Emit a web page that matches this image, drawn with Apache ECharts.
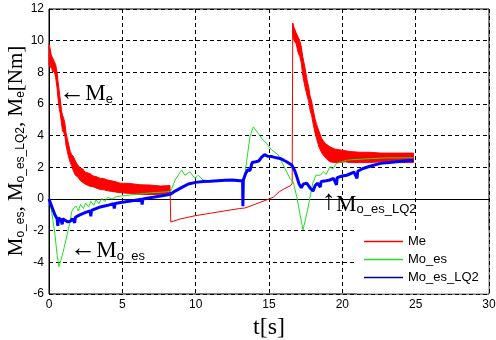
<!DOCTYPE html>
<html>
<head>
<meta charset="utf-8">
<script src="https://cdn.jsdelivr.net/npm/echarts@6/dist/echarts.min.js"></script>
<style>
  html, body { margin: 0; padding: 0; background: #fff; }
  #chart { width: 496px; height: 340px; }
</style>
</head>
<body>
<div id="chart"></div>
<script>
// Engine torque Me: noisy band while the controller is active, rows are [t, low, high]
const meBandEarly = [
  [0.00, 8.5, 9.8], [0.08, 8.3, 9.5], [0.15, 8.4, 9.1], [0.25, 8.0, 8.9], [0.35, 8.1, 8.7],
  [0.45, 7.7, 8.5], [0.55, 7.0, 8.0], [0.62, 6.3, 7.4], [0.70, 5.7, 6.8], [0.78, 5.3, 6.2],
  [0.85, 4.8, 5.6], [0.92, 4.3, 5.3], [1.00, 4.2, 5.1], [1.08, 4.0, 4.8], [1.16, 3.4, 4.2],
  [1.25, 3.0, 3.8], [1.35, 2.6, 3.4], [1.45, 2.3, 3.0], [1.55, 2.1, 2.8], [1.65, 1.8, 2.7],
  [1.80, 1.5, 2.4], [1.95, 1.4, 2.15], [2.15, 1.15, 1.95], [2.30, 1.05, 1.9], [2.45, 0.95, 1.7],
  [2.80, 0.8, 1.6], [3.00, 0.78, 1.45], [3.20, 0.7, 1.42], [3.50, 0.6, 1.3], [3.75, 0.58, 1.28],
  [4.00, 0.52, 1.2], [4.50, 0.45, 1.1], [4.85, 0.4, 1.0], [5.50, 0.35, 0.98], [6.20, 0.3, 0.9],
  [6.90, 0.28, 0.88], [7.60, 0.3, 0.82], [8.25, 0.35, 0.85]
];
const meBandLate = [
  [16.62, 10.3, 11.1], [16.72, 10.0, 10.8], [16.85, 9.8, 10.5], [17.00, 9.2, 10.2], [17.10, 9.0, 10.0],
  [17.20, 8.6, 9.6], [17.30, 7.8, 9.0], [17.45, 7.1, 8.3], [17.60, 6.5, 7.5], [17.70, 6.2, 7.1],
  [17.80, 5.6, 6.5], [17.90, 5.3, 6.2], [18.00, 4.8, 5.7], [18.13, 4.2, 5.1], [18.25, 3.8, 4.7],
  [18.40, 3.3, 4.3], [18.60, 2.9, 3.8], [18.85, 2.6, 3.5], [19.15, 2.35, 3.3], [19.50, 2.3, 3.15],
  [19.84, 2.3, 3.1], [20.20, 2.35, 3.05], [20.50, 2.3, 3.0], [21.20, 2.3, 2.95], [21.90, 2.3, 2.95],
  [22.60, 2.35, 2.9], [23.20, 2.35, 2.9], [24.00, 2.3, 2.9], [24.85, 2.3, 2.9]
];
// Engine torque Me between the two active phases (thin trace)
const meThin = [
  [8.26, 0.6], [8.30, -1.45], [9.0, -1.25], [10.0, -1.05], [11.0, -0.9], [12.0, -0.75],
  [13.0, -0.6], [13.36, -0.57], [14.0, -0.35], [15.0, 0.0], [15.3, 0.12], [15.7, 0.46],
  [16.0, 0.62], [16.5, 0.86], [16.58, 1.0], [16.62, 11.1]
];
// Estimated load torque Mo_es
const moEs = [
  [0, 0], [0.2, -0.9], [0.4, -2.2], [0.55, -3.5], [0.68, -4.27], [0.8, -3.9], [0.95, -3.4],
  [1.2, -2.4], [1.43, -1.45], [1.55, -0.8], [1.7, -0.55], [1.85, -0.45], [2.0, -0.75],
  [2.15, -0.35], [2.35, -0.6], [2.5, -0.25], [2.7, -0.5], [2.85, -0.15], [3.05, -0.4],
  [3.2, -0.05], [3.4, -0.3], [3.6, 0.05], [3.8, -0.15], [4.0, 0.1], [4.3, 0.0], [4.6, 0.15],
  [5.0, 0.2], [5.5, 0.25], [6.0, 0.3], [6.5, 0.35], [7.0, 0.4], [7.5, 0.42], [8.0, 0.45],
  [8.3, 0.5], [8.6, 1.2], [9.04, 1.83], [9.27, 1.5], [9.6, 1.72], [9.95, 1.3], [10.18, 1.5],
  [10.5, 1.2], [11.0, 1.15], [12.0, 1.18], [13.0, 1.15], [13.3, 1.2], [13.47, 2.35],
  [13.7, 3.93], [13.93, 4.56], [14.27, 4.14], [14.5, 3.83], [14.84, 3.5], [15.18, 3.1],
  [15.63, 2.78], [15.86, 2.35], [16.2, 1.72], [16.43, 1.3], [16.65, 1.09], [16.89, 0.15],
  [17.1, -0.9], [17.32, -1.95], [17.63, -0.7], [17.98, 0.99], [18.2, 1.5], [18.5, 1.5],
  [18.7, 1.72], [18.9, 1.55], [19.15, 2.04], [19.35, 1.9], [19.6, 2.25], [19.95, 2.35],
  [20.3, 2.45], [21.0, 2.5], [22.0, 2.55], [23.0, 2.6], [24.0, 2.6], [24.85, 2.6]
];
// Estimated load torque Mo_es_LQ2
const moEsLQ2 = [
  [0, 0], [0.2, -0.5], [0.4, -1.0], [0.55, -1.25], [0.6, -1.7], [0.65, -1.2], [0.8, -1.3],
  [0.9, -1.6], [0.95, -1.25], [1.1, -1.35], [1.3, -1.45], [1.45, -1.4], [1.6, -1.25],
  [1.75, -1.5], [1.8, -1.15], [2.1, -1.0], [2.5, -0.85], [2.8, -0.75], [2.85, -1.1],
  [2.9, -0.72], [3.5, -0.5], [4.0, -0.4], [4.4, -0.3], [4.45, -0.6], [4.5, -0.28],
  [5.0, -0.2], [5.8, -0.1], [6.3, -0.02], [6.35, -0.35], [6.4, 0.0], [7.0, 0.1], [7.5, 0.18],
  [8.0, 0.25], [8.3, 0.32], [8.6, 0.5], [9.0, 0.7], [9.5, 0.95], [10.0, 1.05], [10.5, 1.1],
  [11.0, 1.12], [11.5, 1.15], [12.0, 1.18], [12.5, 1.2], [13.0, 1.15], [13.2, 1.15],
  [13.22, -0.45], [13.25, 1.2], [13.4, 1.6], [13.55, 1.85], [13.7, 1.8], [13.85, 2.3],
  [14.1, 2.35], [14.3, 2.4], [14.5, 2.65], [14.7, 2.8], [14.9, 2.7], [15.2, 2.68],
  [15.5, 2.6], [15.75, 2.56], [16.0, 2.45], [16.2, 2.35], [16.55, 2.15], [16.75, 1.8],
  [16.9, 1.4], [17.05, 0.95], [17.2, 0.72], [17.35, 0.95], [17.57, 1.0], [17.8, 0.7],
  [18.0, 0.5], [18.15, 0.85], [18.3, 1.0], [18.5, 0.75], [18.55, 1.1], [18.9, 1.15],
  [19.15, 1.2], [19.4, 1.3], [19.6, 0.9], [19.65, 1.35], [20.0, 1.45], [20.3, 1.5],
  [20.8, 1.7], [21.0, 1.3], [21.05, 1.75], [21.4, 1.93], [22.0, 2.1], [22.6, 2.25],
  [23.2, 2.3], [23.7, 2.35], [24.2, 2.4], [24.85, 2.45]
];

const RED = '#ff0000', GREEN = '#22dd22', BLUE = '#0000ff';
const SANS = 'Liberation Sans, Arial, sans-serif';
const SERIF = 'Liberation Serif, Times New Roman, serif';

const chart = echarts.init(document.getElementById('chart'));

// A filled band: one polygon through the upper edge and back along the lower edge
function band(id, rows) {
  return {
    name: '_' + id, type: 'custom', data: rows, silent: true, z: 1,
    encode: { x: 0, y: [1, 2] },
    renderItem: (params, api) => {
      if (params.dataIndex !== 0) return null;
      const upper = rows.map(r => api.coord([r[0], r[2]]));
      const lower = rows.slice().reverse().map(r => api.coord([r[0], r[1]]));
      return {
        type: 'polygon',
        shape: { points: upper.concat(lower) },
        style: { fill: RED, stroke: RED, lineWidth: 1 }
      };
    }
  };
}

const richFor = (m, s) => ({
  a: { fontFamily: SERIF, fontSize: 26, color: '#000', verticalAlign: 'bottom', lineHeight: 26 },
  u: { fontFamily: SERIF, fontSize: 28, color: '#000', verticalAlign: 'bottom', lineHeight: 26 },
  m: { fontFamily: SERIF, fontSize: m, color: '#000', verticalAlign: 'bottom', lineHeight: 26 },
  s: { fontFamily: SANS, fontSize: s, color: '#000', verticalAlign: 'bottom', lineHeight: 22 }
});

// legend samples are thin strokes
const sampleLine = 'path://M0,0h39v1.3h-39z';

chart.setOption({
  animation: false,
  backgroundColor: '#fff',
  grid: { left: 49, right: 7, top: 9, bottom: 46, show: true, borderColor: '#000', borderWidth: 1,
          outerBoundsMode: 'none', containLabel: false },
  xAxis: {
    type: 'value', min: 0, max: 30, interval: 5,
    name: 't[s]', nameLocation: 'middle', nameGap: 19,
    nameTextStyle: { fontFamily: SERIF, fontSize: 24, color: '#000' },
    axisLine: { lineStyle: { color: '#000' } },
    axisTick: { show: false },
    axisLabel: { color: '#000', fontFamily: SANS, fontSize: 12, margin: 5 },
    splitLine: { lineStyle: { color: '#000', type: [4, 3], width: 1 } }
  },
  yAxis: {
    type: 'value', min: -6, max: 12, interval: 2,
    axisLine: { show: true, lineStyle: { color: '#000' } },
    axisTick: { show: false },
    axisLabel: { color: '#000', fontFamily: SANS, fontSize: 12, margin: 5 },
    splitLine: { lineStyle: { color: '#000', type: [4, 3], width: 1 } }
  },
  legend: {
    orient: 'vertical', left: 356, top: 230, z: 5, symbolKeepAspect: true,
    padding: [5, 8, 7, 8], itemGap: 5, itemWidth: 39, itemHeight: 14,
    textStyle: { fontFamily: SANS, fontSize: 13, color: '#000' },
    data: [
      { name: 'Me', icon: sampleLine },
      { name: 'Mo_es', icon: sampleLine },
      { name: 'Mo_es_LQ2', icon: sampleLine, itemStyle: { color: '#00008b' } }
    ]
  },
  series: [
    band('early', meBandEarly),
    band('late', meBandLate),
    { name: 'Me', type: 'line', data: meThin, symbol: 'none', z: 2,
      lineStyle: { color: RED, width: 1 }, itemStyle: { color: RED } },
    { name: 'Mo_es', type: 'line', data: moEs, symbol: 'none', z: 3,
      lineStyle: { color: GREEN, width: 1 }, itemStyle: { color: GREEN } },
    { name: 'Mo_es_LQ2', type: 'line', data: moEsLQ2, symbol: 'none', z: 4,
      lineStyle: { color: BLUE, width: 3 }, itemStyle: { color: BLUE } }
  ]
});

// Curve callouts anchored in data coordinates
const callouts = [
  { text: '{a|←}{m|M}{s|e}', at: [0.7, 6.7] },
  { text: '{a|←}{m|M}{s|o_es}', at: [1.45, -3.2] },
  { text: '{u|↑}{m|M}{s|o_es_LQ2}', at: [18.62, -0.25] }
];
const gridRect = chart.getModel().getComponent('grid').coordinateSystem.getRect();
chart.setOption({
  graphic: [
    // white panel behind the legend, reaching the right frame edge
    { type: 'rect', z: 4, shape: { x: 357, y: 230, width: gridRect.x + gridRect.width - 357 - 0.5,
      height: gridRect.y + gridRect.height - 230 - 0.5 }, style: { fill: '#fff' } },
    ...callouts.map(c => {
      const p = chart.convertToPixel({ gridIndex: 0 }, c.at);
      return { type: 'text', z: 6, x: p[0], y: p[1],
        style: { text: c.text, rich: richFor(23, 13), align: 'left', verticalAlign: 'middle' } };
    }),
    // vertical axis title
    { type: 'text', z: 6, x: 14, y: 151, rotation: Math.PI / 2,
      style: { text: '{m|M}{s|o_es}{m|, M}{s|o_es_LQ2}{m|, M}{s|e}{m|[Nm]}', rich: richFor(21, 12),
               align: 'center', verticalAlign: 'middle' } }
  ]
});
</script>
</body>
</html>
